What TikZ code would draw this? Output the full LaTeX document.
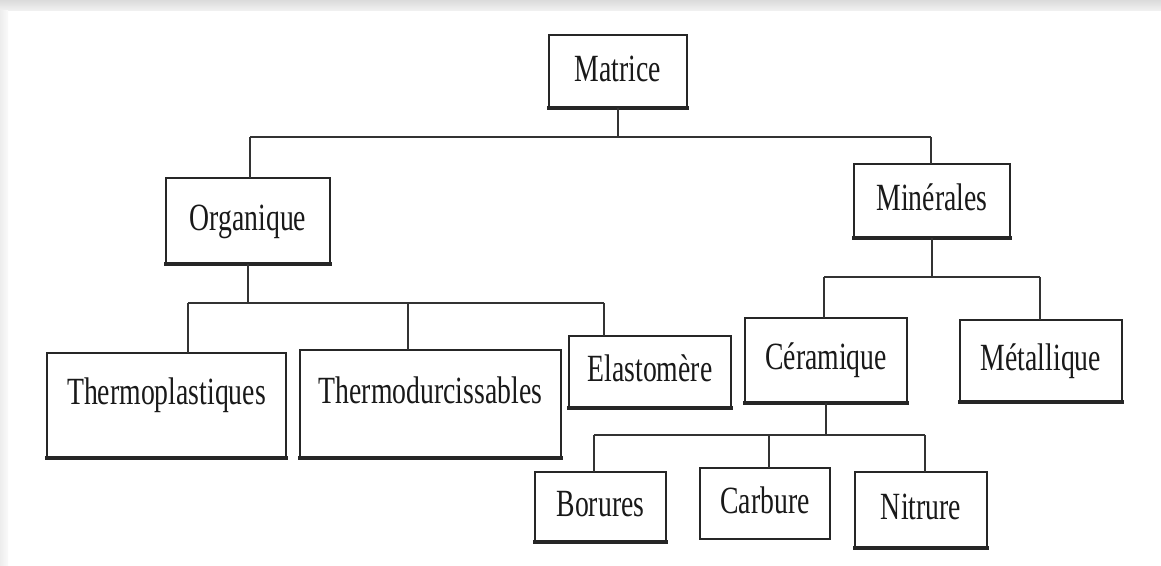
\documentclass[tikz,border=0pt]{standalone}
\usepackage{fontspec}
\setmainfont{Liberation Serif}[FakeStretch=0.72]
\newcommand{\bigfont}{\fontsize{38.5}{40}\selectfont}
\begin{document}
\begin{tikzpicture}[x=1pt,y=-1pt,
  box/.style={draw=black!85, line width=1.6pt, fill=white, inner sep=0pt, outer sep=0pt,
    text height=26pt, text depth=7pt, font=\bigfont, text=black!90},
  thickbox/.style={box, line width=2.6pt},
  base/.style={line width=3.6pt, draw=black!85, line cap=rect},
  link/.style={line width=1.9pt, draw=black!80}
]
\useasboundingbox (0,0) rectangle (1161,565);
\fill[white] (0,0) rectangle (1161,565);
\shade[top color=black!14, bottom color=black!6] (0,0) rectangle (1161,10);
\shade[left color=black!7, right color=black!2] (0,10) rectangle (8,565);

% nodes
\node[box, minimum width=138pt, minimum height=73pt] (mat) at (618,71.5) {Matrice};
\node[box, minimum width=164pt, minimum height=86pt] (org) at (248,221) {Organique};
\node[box, minimum width=156pt, minimum height=74pt] (min) at (932,201) {Minérales};
\node[box, minimum width=239pt, minimum height=105pt, text depth=29pt] (tp) at (166.5,405.5) {Thermoplastiques};
\node[box, minimum width=261pt, minimum height=108pt, text depth=28pt] (td) at (430.5,404) {Thermodurcissables};
\node[thickbox, minimum width=162pt, minimum height=72pt] (ela) at (650,372) {Elastomère};
\node[box, minimum width=162pt, minimum height=85pt, text depth=9pt] (cer) at (826,360.5) {Céramique};
\node[thickbox, minimum width=162pt, minimum height=82pt] (met) at (1041,361) {Métallique};
\node[thickbox, minimum width=131pt, minimum height=70pt] (bor) at (600.5,507) {Borures};
\node[box, minimum width=130pt, minimum height=71pt] (car) at (765,503.5) {Carbure};
\node[thickbox, minimum width=132pt, minimum height=76pt] (nit) at (921,510) {Nitrure};

% thicker bottom edges
\foreach \n in {mat,org,min,tp,td,ela,cer,met,bor,nit}
  \draw[base] (\n.south west) -- (\n.south east);
\draw[base, line width=2.6pt] (car.south west) -- (car.south east);

% junction coordinates
\coordinate (h1L) at (250,137);
\coordinate (h1R) at (931,137);
\coordinate (h2a) at (188,303);
\coordinate (h2b) at (408,303);
\coordinate (h2c) at (604,303);
\coordinate (h3a) at (824,277);
\coordinate (h3b) at (1040,277);
\coordinate (h4a) at (594,435);
\coordinate (h4b) at (769,435);
\coordinate (h4c) at (925,435);

% connectors
\draw[link] (mat.south) -- (mat.south |- h1L);
\draw[link] (h1L) -- (h1R);
\draw[link] (h1L) -- (h1L |- org.north);
\draw[link] (h1R) -- (h1R |- min.north);

\draw[link] (org.south) -- (org.south |- h2a);
\draw[link] (h2a) -- (h2c);
\draw[link] (h2a) -- (h2a |- tp.north);
\draw[link] (h2b) -- (h2b |- td.north);
\draw[link] (h2c) -- (h2c |- ela.north);

\draw[link] (min.south) -- (min.south |- h3a);
\draw[link] (h3a) -- (h3b);
\draw[link] (h3a) -- (h3a |- cer.north);
\draw[link] (h3b) -- (h3b |- met.north);

\draw[link] (cer.south) -- (cer.south |- h4a);
\draw[link] (h4a) -- (h4c);
\draw[link] (h4a) -- (h4a |- bor.north);
\draw[link] (h4b) -- (h4b |- car.north);
\draw[link] (h4c) -- (h4c |- nit.north);
\end{tikzpicture}
\end{document}
